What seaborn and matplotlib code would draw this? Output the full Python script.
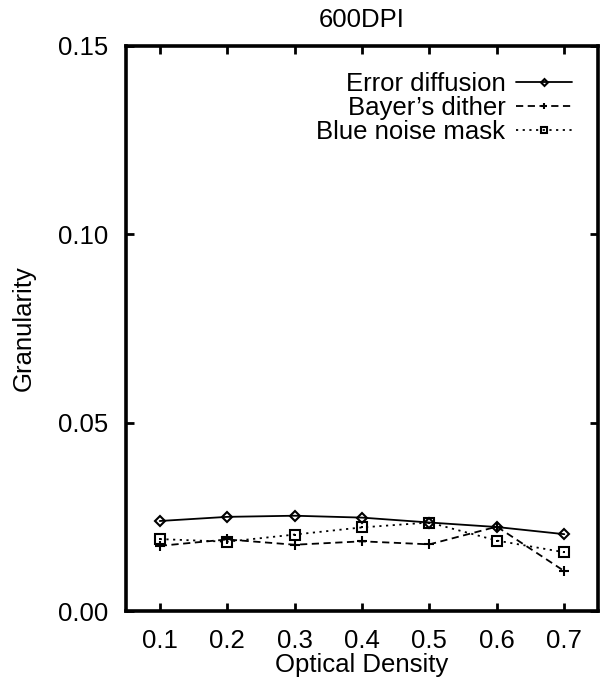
import numpy as np
import pandas as pd
import matplotlib
matplotlib.use("Agg")
import matplotlib.pyplot as plt
import seaborn as sns

density = [0.1, 0.2, 0.3, 0.4, 0.5, 0.6, 0.7]
error_diffusion = [0.0239, 0.0250, 0.0253, 0.0248, 0.0235, 0.0223, 0.0204]
bayer_dither = [0.0173, 0.0190, 0.0176, 0.0185, 0.0177, 0.0224, 0.0106]
blue_noise = [0.0191, 0.0184, 0.0203, 0.0222, 0.0235, 0.0187, 0.0156]
series_names = ["Error diffusion", "Bayer\u2019s dither", "Blue noise mask"]
x_ticks = [0.1, 0.2, 0.3, 0.4, 0.5, 0.6, 0.7]
y_ticks = [0.00, 0.05, 0.10, 0.15]

df = pd.DataFrame({
    "density": density * 3,
    "granularity": error_diffusion + bayer_dither + blue_noise,
    "method": [series_names[0]] * 7 + [series_names[1]] * 7 + [series_names[2]] * 7,
})

sns.set_style("ticks")
plt.rcParams["font.family"] = ["Liberation Sans", "DejaVu Sans"]
plt.rcParams["text.color"] = "black"
plt.rcParams["axes.labelcolor"] = "black"
plt.rcParams["xtick.color"] = "black"
plt.rcParams["ytick.color"] = "black"
plt.rcParams["axes.edgecolor"] = "black"
FS = 18.5

fig = plt.figure(figsize=(6.01, 6.79), dpi=100)
ax = fig.add_axes([0.2097, 0.1001, 0.995 - 0.2097, 0.9323 - 0.1001])

styles = {
    series_names[0]: dict(ls="-", marker="D", ms=5),
    series_names[1]: dict(ls=(0, (4, 2.5)), marker="+", ms=7),
    series_names[2]: dict(ls=(0, (1.2, 2.5)), marker="s", ms=6.5),
}
for name in series_names:
    sub = df[df["method"] == name]
    st = styles[name]
    sns.lineplot(data=sub, x="density", y="granularity", ax=ax, color="black",
                 linestyle=st["ls"], marker=st["marker"], markersize=st["ms"],
                 markerfacecolor="none", markeredgecolor="black", markeredgewidth=1.5,
                 linewidth=1.3, label=name, legend=False)
# center dots of blue noise squares
sub = df[df["method"] == series_names[2]]
sns.scatterplot(data=sub, x="density", y="granularity", ax=ax, color="black",
                s=3, marker="s", linewidth=0, legend=False, zorder=5)

ax.set_xlim(0.05, 0.75)
ax.set_ylim(0, 0.15)
ax.set_xticks(x_ticks)
ax.set_xticklabels([f"{v:.1f}" for v in x_ticks])
ax.set_yticks(y_ticks)
ax.set_yticklabels([f"{v:.2f}" for v in y_ticks])
ax.tick_params(direction="in", length=6, width=2, labelsize=FS, top=True, right=True)
ax.tick_params(axis="x", pad=13)
ax.tick_params(axis="y", pad=13)
for sp in ax.spines.values():
    sp.set_linewidth(2.6)
    sp.set_visible(True)
    sp.set_color("black")
ax.set_xlabel("Optical Density", fontsize=FS, labelpad=0)
ax.set_ylabel("Granularity", fontsize=FS, labelpad=16)
ax.set_title("600DPI", fontsize=FS, pad=14)

leg = ax.legend(loc="upper right", markerfirst=False, frameon=False, fontsize=FS,
                handlelength=2.2, handletextpad=0.4, labelspacing=0.0,
                borderaxespad=0.6, markerscale=0.7)
for t in leg.get_texts():
    t.set_ha("right")

fig.savefig("out.png", dpi=100)
